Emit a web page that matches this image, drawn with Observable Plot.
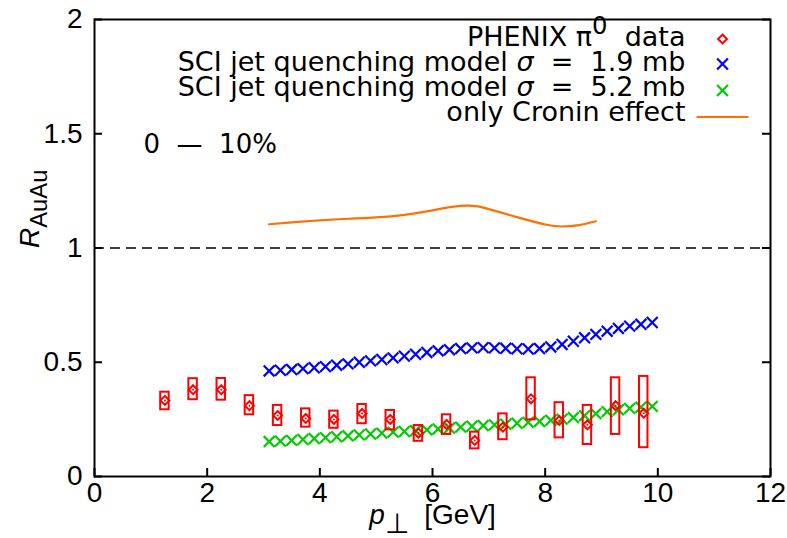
<!DOCTYPE html>
<html><head><meta charset="utf-8">
<script src="https://cdn.jsdelivr.net/npm/d3@7"></script>
<script src="https://cdn.jsdelivr.net/npm/@observablehq/plot@0.6"></script>
<style>
body{margin:0;background:#fff}
svg{font-family:"Liberation Sans",Arial,sans-serif}
</style>
</head><body><div id="chart"></div>
<script>
// PHENIX pi0 data (0-10%)
const phenixPt = [1.25,1.75,2.25,2.75,3.25,3.75,4.25,4.75,5.25,5.75,6.25,6.75,7.25,7.75,8.25,8.75,9.25,9.75];
const phenixR  = [0.333,0.380,0.380,0.310,0.267,0.254,0.250,0.276,0.250,0.190,0.228,0.158,0.216,0.340,0.245,0.226,0.310,0.277];
const phenixLo = [0.292,0.336,0.334,0.270,0.223,0.216,0.211,0.231,0.204,0.154,0.184,0.121,0.161,0.248,0.169,0.140,0.184,0.126];
const phenixHi = [0.369,0.428,0.429,0.354,0.311,0.296,0.286,0.315,0.289,0.223,0.270,0.194,0.274,0.432,0.323,0.311,0.432,0.438];
// SCI jet quenching model
const modelPt = [3.1,3.3,3.5,3.7,3.9,4.1,4.3,4.5,4.7,4.9,5.1,5.3,5.5,5.7,5.9,6.1,6.3,6.5,6.7,6.9,7.1,7.3,7.5,7.7,7.9,8.1,8.3,8.5,8.7,8.9,9.1,9.3,9.5,9.7,9.9];
const sigma19 = [0.462,0.465,0.468,0.472,0.476,0.481,0.487,0.493,0.500,0.506,0.512,0.519,0.527,0.535,0.543,0.550,0.555,0.560,0.563,0.564,0.563,0.561,0.559,0.558,0.560,0.567,0.578,0.592,0.607,0.622,0.636,0.648,0.658,0.666,0.674];
const sigma52 = [0.153,0.155,0.158,0.162,0.166,0.170,0.174,0.178,0.182,0.186,0.190,0.194,0.197,0.200,0.204,0.208,0.212,0.216,0.220,0.223,0.226,0.229,0.233,0.237,0.241,0.246,0.251,0.258,0.266,0.275,0.284,0.292,0.298,0.303,0.307];
// only Cronin effect
const croninPt = [3.1,3.5,4.0,4.5,5.0,5.5,6.0,6.5,6.8,7.0,7.5,8.0,8.3,8.6,8.9];
const croninR  = [1.104,1.112,1.121,1.128,1.134,1.145,1.165,1.184,1.182,1.170,1.135,1.103,1.094,1.100,1.117];
const xTicks = [0,2,4,6,8,10,12];
const yTicks = [0,0.5,1,1.5,2];
const legendLabels = ["PHENIX π0 data","SCI jet quenching model σ = 1.9 mb","SCI jet quenching model σ = 5.2 mb","only Cronin effect"];

const RED="#ff0000", BLUE="#0000ff", GREEN="#00cc00", ORANGE="#ff7000";
const phenix = phenixPt.map((x,i)=>({x, y:phenixR[i], lo:phenixLo[i], hi:phenixHi[i]}));
const model = modelPt.map((x,i)=>({x, s19:sigma19[i], s52:sigma52[i]}));
const cronin = croninPt.map((x,i)=>({x, y:croninR[i]}));

const W=787,H=538,ML=94,MR=17,MT=19,MB=62;
const FW=W-ML-MR, FH=H-MT-MB, TL=8;
const lineSymbol = {draw(ctx){ctx.moveTo(-26,0);ctx.lineTo(26,0);}};
const fs = 28;
const LF = '"DejaVu Sans",sans-serif';
const legendDy = [18, 42.5, 68, 93];
const symDy = [19.5, 44.5, 71, 97.5];

const legendText = legendLabels.map((s,i)=>Plot.text([s], {frameAnchor:"top-right", dx:-85, dy:legendDy[i], text:d=>d, textAnchor:"end", lineAnchor:"middle", fontSize:27, fontFamily:LF, fill:"black"}));

const plot = Plot.plot({
  width:W, height:H, marginLeft:ML, marginRight:MR, marginTop:MT, marginBottom:MB,
  x:{domain:[0,12]}, y:{domain:[0,2]},
  style:{fontFamily:'"Liberation Sans",Arial,sans-serif', background:"#fff"},
  marks:[
    Plot.ruleY([1], {stroke:"black", strokeWidth:1.6, strokeDasharray:"10,6"}),
    Plot.line(cronin, {x:"x", y:"y", curve:"natural", stroke:ORANGE, strokeWidth:2.2}),
    Plot.dot(model, {x:"x", y:"s19", symbol:"times", r:5, stroke:BLUE, strokeWidth:2.2}),
    Plot.dot(model, {x:"x", y:"s52", symbol:"times", r:5, stroke:GREEN, strokeWidth:2.2}),
    Plot.rect(phenix, {x1:d=>d.x-0.075, x2:d=>d.x+0.075, y1:"lo", y2:"hi", stroke:RED, fill:"none", strokeWidth:2}),
    Plot.dot(phenix, {x:"x", y:"y", symbol:"diamond2", r:4, stroke:RED, strokeWidth:2}),
    Plot.dot(phenix, {x:"x", y:"y", r:1, fill:RED}),
    Plot.frame({stroke:"black", strokeWidth:2}),
    Plot.tickX(xTicks, {x:d=>d, insetTop:FH-TL, stroke:"black", strokeWidth:2}),
    Plot.tickY(yTicks, {y:d=>d, insetRight:FW-TL, stroke:"black", strokeWidth:2}),
    Plot.tickY(yTicks, {y:d=>d, insetLeft:FW-TL, stroke:"black", strokeWidth:2}),
    Plot.axisX(xTicks, {tickSize:0, tickPadding:6, fontSize:fs, label:null, tickFormat:d=>String(d), fill:"black"}),
    Plot.axisY(yTicks, {tickSize:0, tickPadding:12, fontSize:fs, label:null, tickFormat:d=>String(d), fill:"black"}),
    // axis labels
    Plot.text(["p⊥ [GeV]"], {frameAnchor:"bottom", dy:39, text:d=>d, fontSize:fs, lineAnchor:"middle", fill:"black"}),
    Plot.text(["RAuAu"], {frameAnchor:"left", dx:-64, rotate:-90, text:d=>d, fontSize:fs, lineAnchor:"middle", fill:"black"}),
    // centrality label
    Plot.text(["0 — 10%"], {frameAnchor:"top-left", dx:49, dy:125, text:d=>d, textAnchor:"start", lineAnchor:"middle", fontSize:26, fontFamily:LF, fill:"black"}),
    // legend
    ...legendText,
    Plot.dot([0], {frameAnchor:"top-right", dx:-48, dy:symDy[0], symbol:"diamond2", r:4, stroke:RED, strokeWidth:2}),
    Plot.dot([0], {frameAnchor:"top-right", dx:-48, dy:symDy[1], symbol:"times", r:5, stroke:BLUE, strokeWidth:2.2}),
    Plot.dot([0], {frameAnchor:"top-right", dx:-48, dy:symDy[2], symbol:"times", r:5, stroke:GREEN, strokeWidth:2.2}),
    Plot.dot([0], {frameAnchor:"top-right", dx:-48, dy:symDy[3], symbol:lineSymbol, stroke:ORANGE, strokeWidth:2.2})
  ]
});

// rich text (sub/superscripts, italics)
const svg = d3.select(plot);
svg.selectAll("text").each(function(){
  const t = d3.select(this);
  const s = this.textContent;
  const li = legendLabels.indexOf(s);
  t.attr("xml:space","preserve").style("white-space","pre");
  if (li === 0) {
    t.text(null);
    t.append("tspan").text("PHENIX π");
    t.append("tspan").attr("dy","-0.5em").attr("font-size","0.9em").text("0");
    t.append("tspan").attr("dy","0.45em").text("  data");
  } else if (li === 1 || li === 2) {
    const v = li === 1 ? "1.9" : "5.2";
    t.text(null);
    t.append("tspan").text("SCI jet quenching model ");
    t.append("tspan").attr("font-style","italic").text("σ");
    t.append("tspan").text(`  =  ${v} mb`);
  } else if (s === "p⊥ [GeV]") {
    t.text(null);
    t.append("tspan").attr("font-style","italic").text("p");
    t.append("tspan").attr("dy","0.3em").text("⊥");
    t.append("tspan").attr("dy","-0.3em").text("  [GeV]");
  } else if (s === "RAuAu") {
    t.text(null);
    t.append("tspan").attr("font-style","italic").text("R");
    t.append("tspan").attr("dy","0.3em").attr("font-size","0.85em").text("AuAu");
  } else if (s === "0 — 10%") {
    t.text("0  —  10%");
  }
});
document.getElementById("chart").appendChild(plot);
</script>
</body></html>
